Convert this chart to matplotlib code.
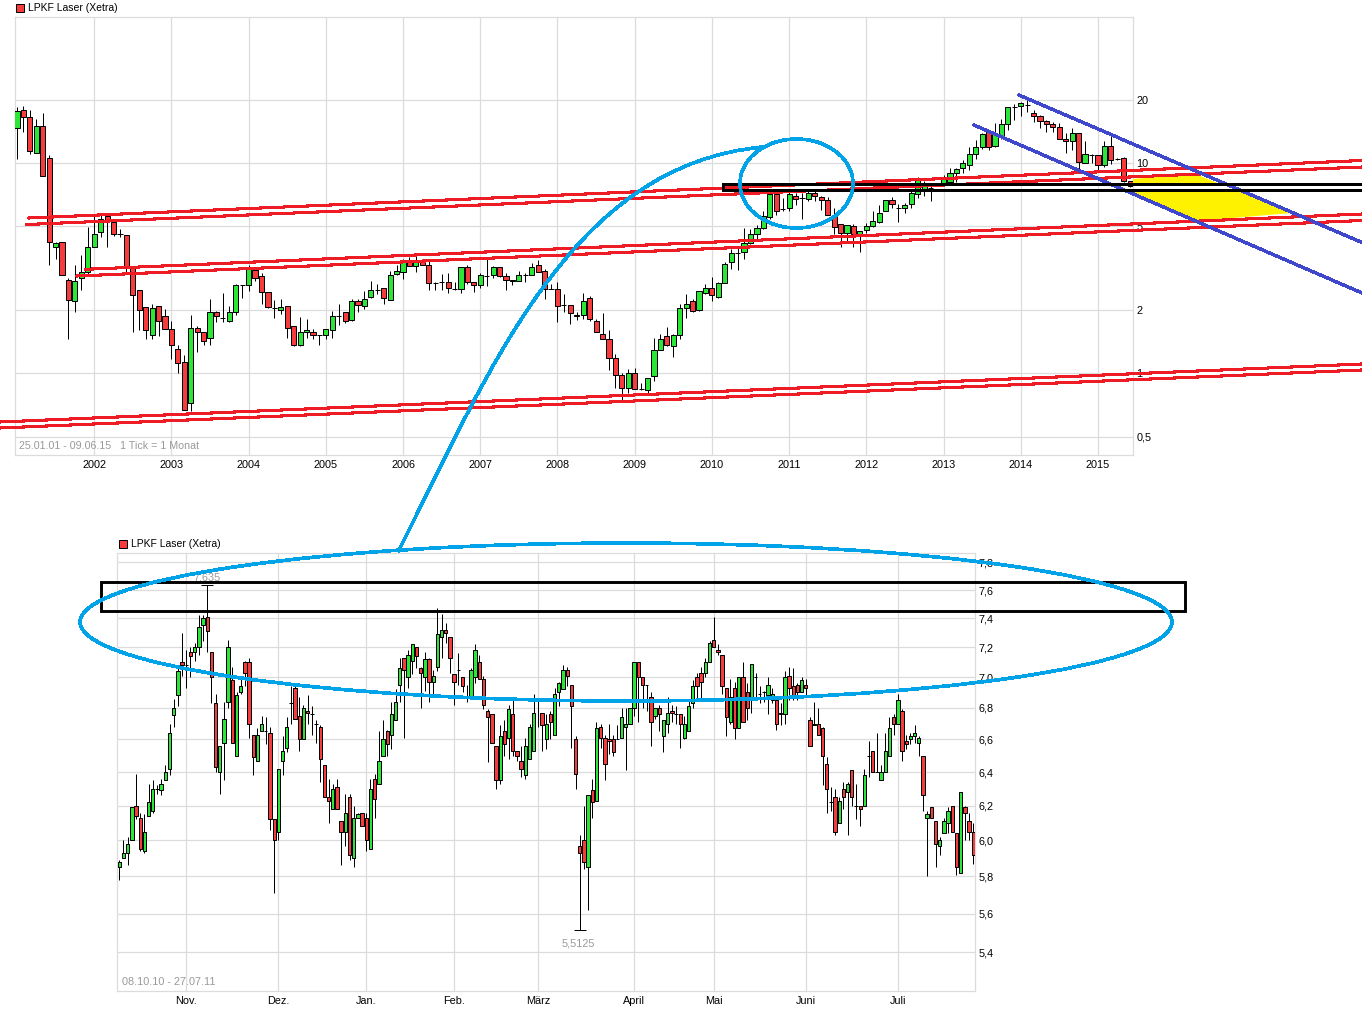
import matplotlib
matplotlib.use("Agg")
from matplotlib import pyplot as plt
from matplotlib.patches import Ellipse, PathPatch, Polygon, Rectangle
from matplotlib.path import Path

plt.rcParams['font.family'] = ['Liberation Sans', 'DejaVu Sans']
plt.rcParams['font.size'] = 7.8

W, H = 1362, 1030

GREEN = "#2be636"
RED = "#f53b3b"
GRID = "#dcdcdc"
LINE_RED = "#ee1c25"
LINE_BLUE = "#00a2e8"
LINE_PURPLE = "#3f48cc"
YELLOW = "#fff200"

# monthly candles, LPKF Laser, Jan 2001 - Jun 2015
m_open = [14.7, 18.0, 16.5, 11.2, 15.1, 10.6, 4.0, 4.2, 2.79, 2.2,
          2.83, 3.05, 4.0, 4.7, 5.6, 5.25, 4.58, 4.55, 3.2, 2.48,
          2.08, 1.53, 2.1, 1.87, 1.62, 1.31, 1.13, .72, 1.65, 1.58,
          1.48, 1.95, 1.84, 1.77, 1.96, 2.62, 2.62, 3.1, 2.9, 2.43,
          2.05, 2.0, 2.1, 1.68, 1.36, 1.57, 1.58, 1.53, 1.53, 1.6,
          1.88, 1.95, 1.79, 2.22, 2.1, 2.3, 2.5, 2.54, 2.23, 2.98,
          3.05, 3.4, 3.23, 3.47, 3.27, 2.69, 2.72, 2.72, 2.53, 2.51,
          3.2, 2.72, 2.62, 2.92, 2.94, 3.2, 2.9, 2.79, 2.74, 2.94,
          2.94, 3.27, 3.08, 2.51, 2.51, 2.12, 2.12, 1.87, 1.9, 2.28,
          1.77, 1.54, 1.45, 1.19, .98, .85, 1.0, .84, .83, .97,
          1.29, 1.5, 1.35, 1.52, 2.05, 2.22, 2.0, 2.42, 2.54, 2.31,
          2.7, 3.37, 3.73, 3.8, 4.15, 4.62, 4.9, 5.55, 7.1, 6.05,
          6.1, 7.0, 6.8, 6.75, 7.2, 6.9, 6.7, 5.7, 5.15, 4.65,
          5.05, 4.62, 4.82, 5.05, 5.25, 5.9, 6.7, 6.1, 6.1, 6.4,
          7.15, 7.5, 7.65, 7.75, 7.9, 8.1, 8.95, 9.5, 9.8, 11.0,
          11.9, 14.0, 12.1, 13.5, 15.3, 18.5, 18.7, 18.9, 17.4, 16.8,
          15.9, 15.3, 14.9, 13.1, 12.7, 13.9, 10.0, 10.9, 10.9, 9.8,
          12.1, 10.5, 10.6, 8.2]
m_close = [17.7, 16.5, 11.4, 15.1, 8.7, 4.2, 4.15, 2.95, 2.23, 2.76,
           3.05, 4.0, 4.62, 5.45, 5.3, 4.62, 4.58, 3.2, 2.37, 2.0,
           1.6, 2.05, 1.77, 1.62, 1.36, 1.12, .67, 1.65, 1.57, 1.42,
           1.95, 1.87, 1.84, 1.95, 2.62, 2.62, 3.14, 2.83, 2.43, 2.08,
           2.05, 2.06, 1.64, 1.36, 1.58, 1.6, 1.53, 1.53, 1.62, 1.88,
           1.88, 1.77, 2.22, 2.12, 2.27, 2.5, 2.5, 2.28, 2.95, 3.08,
           3.37, 3.25, 3.37, 3.27, 2.68, 2.69, 2.72, 2.54, 2.53, 3.2,
           2.72, 2.62, 2.94, 2.92, 3.2, 2.9, 2.79, 2.74, 2.94, 2.94,
           3.2, 3.05, 2.51, 2.51, 2.1, 2.12, 1.93, 1.9, 2.2, 1.81,
           1.57, 1.46, 1.18, .98, .85, 1.0, .84, .84, .95, 1.29,
           1.46, 1.36, 1.52, 2.05, 2.15, 1.98, 2.46, 2.54, 2.37, 2.68,
           3.33, 3.73, 3.73, 4.15, 4.62, 4.9, 5.6, 7.1, 5.9, 6.05,
           7.15, 6.75, 6.8, 7.2, 7.0, 6.7, 5.7, 4.97, 4.65, 5.1,
           4.62, 4.77, 5.05, 5.3, 5.8, 6.7, 6.4, 6.1, 6.3, 7.2,
           8.35, 7.9, 7.65, 7.75, 8.5, 8.95, 9.4, 10.0, 11.0, 11.9,
           13.7, 12.0, 13.7, 15.3, 18.5, 18.5, 19.4, 18.9, 16.8, 15.9,
           15.3, 14.9, 13.1, 12.7, 13.9, 10.1, 11.0, 10.9, 9.8, 12.1,
           10.3, 10.5, 8.2, 7.75]
m_high = [18.5, 18.7, 17.9, 16.3, 17.3, 10.9, 4.2, 4.2, 2.85, 3.27,
          3.65, 4.97, 5.6, 5.8, 5.7, 5.45, 4.84, 4.55, 3.2, 2.48,
          2.08, 2.14, 2.1, 2.02, 1.77, 1.36, 1.22, 1.9, 1.68, 1.58,
          2.25, 1.99, 2.4, 2.1, 2.66, 2.62, 3.27, 3.14, 3.0, 2.43,
          2.23, 2.27, 2.1, 1.68, 1.85, 1.81, 1.62, 1.53, 1.62, 1.99,
          2.14, 1.95, 2.25, 2.25, 2.47, 2.75, 2.65, 2.56, 3.06, 3.27,
          3.5, 3.57, 3.73, 3.5, 3.52, 2.72, 2.96, 3.0, 2.72, 3.2,
          3.28, 2.72, 3.0, 3.5, 3.23, 3.2, 3.0, 2.79, 3.08, 3.0,
          3.34, 3.47, 3.13, 2.66, 2.72, 2.38, 2.12, 1.95, 2.4, 2.33,
          1.81, 1.93, 1.6, 1.23, 1.0, 1.05, 1.06, .9, .95, 1.48,
          1.54, 1.67, 1.54, 2.14, 2.39, 2.25, 2.47, 2.66, 2.87, 2.72,
          3.37, 3.9, 4.0, 4.9, 4.84, 5.1, 5.9, 7.2, 7.2, 6.85,
          7.4, 7.2, 7.2, 7.4, 7.4, 7.0, 6.9, 6.1, 5.15, 5.1,
          5.15, 4.77, 5.2, 5.9, 6.35, 6.7, 6.9, 6.4, 6.5, 7.5,
          8.6, 8.2, 7.9, 7.9, 8.8, 9.5, 9.5, 10.4, 12.0, 12.9,
          13.9, 14.4, 15.5, 16.3, 18.6, 19.2, 19.6, 20, 18.0, 17.0,
          16.1, 15.7, 15.6, 13.9, 14.7, 13.9, 12.7, 11.1, 10.9, 12.7,
          13.4, 10.6, 10.7, 8.25]
m_low = [10.5, 14.1, 11.1, 11.2, 8.7, 3.28, 3.5, 2.95, 1.46, 1.95,
         2.5, 2.97, 4.0, 4.45, 4.0, 4.5, 4.45, 3.0, 1.57, 1.6,
         1.46, 1.46, 1.5, 1.62, 1.17, 1.0, .67, .66, 1.26, 1.36,
         1.36, 1.76, 1.76, 1.76, 1.89, 2.28, 2.47, 2.75, 2.14, 2.05,
         1.84, 1.91, 1.48, 1.35, 1.35, 1.48, 1.46, 1.36, 1.46, 1.48,
         1.7, 1.73, 1.77, 1.95, 2.02, 2.28, 2.38, 2.14, 2.23, 2.94,
         2.8, 3.25, 3.03, 3.27, 2.5, 2.48, 2.48, 2.4, 2.48, 2.42,
         2.66, 2.44, 2.56, 2.61, 2.83, 2.87, 2.48, 2.64, 2.74, 2.72,
         2.94, 3.05, 2.27, 2.51, 1.76, 1.95, 1.72, 1.8, 1.81, 1.77,
         1.57, 1.45, 1.04, .85, .74, .81, .84, .83, .81, .92,
         1.29, 1.35, 1.2, 1.45, 1.84, 1.95, 1.98, 2.38, 2.22, 2.28,
         2.68, 3.13, 3.1, 3.52, 4.13, 4.37, 4.87, 5.45, 5.7, 5.9,
         5.9, 6.3, 5.45, 6.6, 6.6, 6.0, 5.65, 4.58, 4.0, 4.15,
         4.0, 3.8, 4.65, 4.97, 5.2, 5.9, 6.15, 5.25, 5.8, 6.15,
         6.85, 7.0, 6.6, 7.75, 7.85, 7.9, 8.1, 8.95, 9.3, 10.5,
         11.7, 11.6, 11.9, 13.1, 14.4, 16.0, 16.7, 17.5, 15.7, 14.7,
         14.1, 14.0, 13.0, 11.2, 11.5, 9.3, 10.0, 10.0, 9.2, 9.6,
         9.9, 10.4, 8.15, 7.7]

year_pos = [12, 24, 36, 48, 60, 72, 84, 96, 108, 120, 132, 144, 156, 168]
year_labels = ["2002", "2003", "2004", "2005", "2006", "2007", "2008",
               "2009", "2010", "2011", "2012", "2013", "2014", "2015"]
top_ticks = [20, 10, 5, 2, 1, 0.5]
top_tick_labels = ["20", "10", "5", "2", "1", "0,5"]

# daily candles, 08.10.10 - 27.07.11
d_open = [5.85, 5.90, 5.93, 6.0, 6.2, 6.13, 5.94, 6.14, 6.17, 6.3,
          6.29, 6.35, 6.42, 6.755, 6.88, 7.1, 7.08, 7.17, 7.17, 7.2,
          7.35, 7.41, 7.17, 6.83, 6.4, 6.58, 6.84, 6.98, 6.5, 6.9,
          7.1, 7.1, 6.63, 6.47, 6.65, 6.65, 6.64, 6.12, 6.05, 6.47,
          6.55, 6.83, 6.93, 6.75, 6.6, 6.78, 6.76, 6.7, 6.68, 6.44,
          6.25, 6.18, 6.31, 6.11, 6.05, 6.25, 5.9, 6.13, 6.16, 6.13,
          5.95, 6.36, 6.33, 6.5, 6.65, 6.63, 6.72, 6.95, 7.13, 7.0,
          7.11, 7.2, 7.06, 7.0, 7.12, 6.97, 7.07, 7.27, 7.32, 7.27,
          7.02, 7.05, 7.0, 6.87, 6.87, 7.0, 7.1, 6.99, 6.78, 6.76,
          6.56, 6.35, 6.65, 6.61, 6.76, 6.53, 6.47, 6.38, 6.48, 6.53,
          6.85, 6.77, 6.6, 6.76, 6.63, 6.9, 6.92, 7.05, 6.95, 6.6,
          5.97, 6.0, 5.85, 6.29, 6.23, 6.68, 6.61, 6.6, 6.6, 6.6,
          6.61, 6.68, 6.7, 6.8, 7.1, 7.0, 6.95, 6.87, 6.75, 6.8,
          6.62, 6.7, 6.78, 6.76, 6.76, 6.61, 6.65, 6.83, 7.0, 7.03,
          7.03, 7.1, 7.25, 7.18, 7.15, 6.93, 6.71, 6.93, 6.67, 7.0,
          6.9, 6.87, 7.0, 6.89, 6.9, 6.88, 6.85, 6.85, 6.76, 6.76,
          7.01, 6.94, 6.95, 6.9, 6.95, 6.72, 6.69, 6.7, 6.67, 6.45,
          6.22, 6.25, 6.1, 6.3, 6.28, 6.41, 6.2, 6.2, 6.2, 6.5,
          6.53, 6.4, 6.35, 6.4, 6.5, 6.74, 6.7, 6.78, 6.59, 6.6,
          6.62, 6.58, 6.5, 6.13, 6.19, 6.11, 5.97, 6.04, 6.1, 6.2,
          6.04, 5.82, 6.19, 6.11, 6.05]
d_close = [5.88, 5.93, 5.98, 6.19, 6.14, 5.95, 6.05, 6.22, 6.3, 6.3,
           6.33, 6.4, 6.64, 6.8, 7.04, 7.08, 7.08, 7.14, 7.2, 7.34,
           7.4, 7.31, 7.0, 6.43, 6.56, 6.73, 7.2, 6.58, 6.88, 6.94,
           7.03, 6.7, 6.49, 6.63, 6.7, 6.65, 6.12, 6.0, 6.42, 6.53,
           6.68, 6.83, 6.73, 6.6, 6.8, 6.77, 6.76, 6.7, 6.48, 6.25,
           6.23, 6.3, 6.18, 6.05, 6.16, 5.92, 6.13, 6.15, 6.08, 6.0,
           6.3, 6.24, 6.47, 6.6, 6.57, 6.76, 6.84, 7.06, 7.05, 7.15,
           7.22, 7.14, 7.03, 7.12, 6.97, 7.01, 7.29, 7.32, 7.3, 7.13,
           6.97, 7.05, 6.94, 6.87, 7.05, 7.18, 6.99, 6.82, 6.74, 6.58,
           6.35, 6.62, 6.57, 6.79, 6.53, 6.5, 6.42, 6.56, 6.68, 6.77,
           6.85, 6.69, 6.7, 6.71, 6.89, 6.96, 7.05, 7.01, 6.81, 6.39,
           5.93, 5.88, 6.26, 6.22, 6.67, 6.61, 6.45, 6.59, 6.52, 6.6,
           6.74, 6.7, 6.8, 7.1, 7.0, 6.95, 6.95, 6.71, 6.8, 6.76,
           6.72, 6.77, 6.77, 6.76, 6.7, 6.7, 6.81, 6.94, 6.94, 6.97,
           7.1, 7.23, 7.2, 7.17, 6.94, 6.74, 6.87, 6.67, 7.0, 6.71,
           6.8, 7.09, 7.0, 6.89, 6.9, 6.95, 6.89, 6.7, 6.77, 7.0,
           6.93, 6.87, 6.9, 6.98, 6.93, 6.56, 6.7, 6.63, 6.5, 6.3,
           6.22, 6.05, 6.23, 6.25, 6.33, 6.25, 6.2, 6.18, 6.38, 6.5,
           6.4, 6.4, 6.4, 6.53, 6.67, 6.7, 6.85, 6.53, 6.57, 6.62,
           6.64, 6.61, 6.26, 6.15, 6.13, 5.98, 6.0, 6.11, 6.17, 6.05,
           5.85, 6.28, 6.16, 6.05, 5.92]
d_high = [5.89, 6.0, 6.02, 6.19, 6.39, 6.16, 6.15, 6.33, 6.35, 6.32,
          6.36, 6.44, 6.7, 6.86, 7.06, 7.3, 7.18, 7.2, 7.23, 7.42,
          7.42, 7.635, 7.17, 6.89, 6.56, 6.84, 7.25, 7.07, 6.9, 7.0,
          7.11, 7.13, 6.63, 6.67, 6.75, 6.74, 6.68, 6.12, 6.42, 6.62,
          6.74, 6.94, 6.95, 6.87, 6.82, 6.88, 6.81, 6.72, 6.69, 6.44,
          6.36, 6.33, 6.36, 6.11, 6.27, 6.27, 6.2, 6.16, 6.16, 6.16,
          6.36, 6.39, 6.65, 6.72, 6.66, 6.84, 6.92, 7.13, 7.13, 7.18,
          7.22, 7.2, 7.07, 7.17, 7.13, 7.05, 7.47, 7.43, 7.37, 7.27,
          7.02, 7.16, 7.0, 6.95, 7.06, 7.22, 7.15, 7.01, 6.79, 6.76,
          6.56, 6.69, 6.72, 6.82, 6.87, 6.53, 6.56, 6.61, 6.7, 6.89,
          6.85, 6.77, 6.76, 6.78, 6.93, 6.97, 7.08, 7.07, 6.95, 6.62,
          6.03, 6.2, 6.26, 6.36, 6.71, 6.7, 6.63, 6.7, 6.63, 6.69,
          6.8, 6.8, 6.8, 7.1, 7.1, 7.0, 6.95, 6.9, 6.8, 6.82,
          6.72, 6.87, 6.82, 6.81, 6.76, 6.75, 6.85, 6.98, 7.03, 7.07,
          7.13, 7.24, 7.41, 7.22, 7.15, 6.93, 6.99, 6.97, 7.0, 7.1,
          6.96, 7.09, 7.03, 6.94, 6.91, 7.0, 6.93, 6.87, 6.83, 7.04,
          7.07, 7.06, 6.96, 7.0, 6.99, 6.74, 6.84, 6.8, 6.68, 6.49,
          6.31, 6.3, 6.25, 6.34, 6.34, 6.41, 6.33, 6.2, 6.42, 6.59,
          6.53, 6.64, 6.44, 6.64, 6.74, 6.76, 6.89, 6.79, 6.63, 6.64,
          6.69, 6.62, 6.5, 6.17, 6.19, 6.11, 6.02, 6.13, 6.19, 6.2,
          6.04, 6.28, 6.2, 6.16, 6.1]
d_low = [5.78, 5.9, 5.86, 6.0, 6.12, 5.94, 5.93, 6.14, 6.16, 6.27,
         6.26, 6.35, 6.38, 6.68, 6.81, 7.01, 6.93, 7.0, 7.11, 7.15,
         7.24, 7.17, 6.83, 6.4, 6.27, 6.35, 6.8, 6.58, 6.5, 6.89,
         6.94, 6.61, 6.38, 6.47, 6.65, 6.57, 6.06, 5.71, 6.0, 6.38,
         6.52, 6.7, 6.73, 6.53, 6.6, 6.7, 6.63, 6.58, 6.34, 6.25,
         6.1, 6.18, 6.18, 5.86, 5.97, 5.89, 5.85, 6.13, 6.08, 5.94,
         5.95, 6.13, 6.33, 6.5, 6.5, 6.54, 6.72, 6.84, 6.61, 6.93,
         7.02, 7.06, 6.8, 6.91, 6.84, 6.88, 7.04, 7.13, 7.23, 7.03,
         6.82, 6.95, 6.9, 6.84, 6.87, 6.96, 6.99, 6.79, 6.46, 6.58,
         6.3, 6.33, 6.5, 6.48, 6.5, 6.47, 6.37, 6.36, 6.48, 6.53,
         6.68, 6.53, 6.54, 6.6, 6.63, 6.81, 6.92, 6.94, 6.55, 6.3,
         5.5125, 5.84, 5.62, 6.13, 6.23, 6.55, 6.35, 6.51, 6.5, 6.6,
         6.61, 6.41, 6.7, 6.75, 6.71, 6.8, 6.78, 6.56, 6.73, 6.65,
         6.52, 6.64, 6.71, 6.7, 6.55, 6.6, 6.65, 6.8, 6.85, 6.85,
         7.0, 7.1, 7.2, 7.15, 6.89, 6.62, 6.7, 6.6, 6.67, 6.71,
         6.72, 6.77, 6.87, 6.83, 6.84, 6.76, 6.83, 6.66, 6.69, 6.7,
         6.85, 6.85, 6.85, 6.9, 6.87, 6.56, 6.69, 6.63, 6.32, 6.16,
         6.17, 6.03, 6.1, 6.18, 6.03, 6.2, 6.12, 6.08, 6.2, 6.37,
         6.4, 6.4, 6.35, 6.4, 6.5, 6.63, 6.7, 6.47, 6.54, 6.57,
         6.58, 6.5, 6.17, 5.8, 6.13, 5.85, 5.92, 6.04, 6.04, 6.05,
         5.81, 5.82, 6.0, 6.0, 5.87]

month_pos = [16, 38, 59, 80, 100, 123, 142, 164, 186]
month_labels = ["Nov.", "Dez.", "Jan.", "Feb.", "März", "April", "Mai", "Juni", "Juli"]
bottom_ticks = [7.8, 7.6, 7.4, 7.2, 7.0, 6.8, 6.6, 6.4, 6.2, 6.0, 5.8, 5.6, 5.4]
bottom_tick_labels = ["7,8", "7,6", "7,4", "7,2", "7,0", "6,8", "6,6", "6,4",
                      "6,2", "6,0", "5,8", "5,6", "5,4"]


def px_axes(fig, left, top, right, bottom):
    return fig.add_axes([left / W, 1 - bottom / H, (right - left) / W, (bottom - top) / H])


def draw_candles(ax, o, h, l, c, width):
    x = list(range(len(o)))
    ax.vlines(x, l, h, color="k", lw=0.72, zorder=3)
    bottoms = [min(a, b) for a, b in zip(o, c)]
    heights = [abs(a - b) for a, b in zip(o, c)]
    colors = [GREEN if b >= a else RED for a, b in zip(o, c)]
    bars = ax.bar(x, heights, width, bottom=bottoms, color=colors, edgecolor="k",
                  linewidth=0.72, zorder=4)
    for b in bars:
        b.set_snap(True)


def style_axes(ax, xpos, xlabels, ypos, ylabels):
    ax.set_yscale("log")
    ax.set_xticks(xpos)
    ax.set_xticklabels(xlabels)
    ax.set_yticks(ypos)
    ax.set_yticklabels(ylabels)
    ax.minorticks_off()
    ax.yaxis.tick_right()
    ax.tick_params(axis="y", length=0, pad=2.4)
    ax.tick_params(axis="x", length=0, pad=3.4)
    ax.grid(True, color=GRID, lw=0.9)
    ax.set_axisbelow(True)
    for s in ax.spines.values():
        s.set_color(GRID)
        s.set_linewidth(0.9)


fig = plt.figure(figsize=(W / 100, H / 100), dpi=100, facecolor="white")

ax_top = px_axes(fig, 14.5, 17, 1133, 455)
style_axes(ax_top, year_pos, year_labels, top_ticks, top_tick_labels)
draw_candles(ax_top, m_open, m_high, m_low, m_close, 0.8)
ax_top.set_xlim(-0.39, 173.45)
ax_top.set_ylim(0.409, 49.6)

ax_bot = px_axes(fig, 117.3, 553.3, 975.3, 991)
style_axes(ax_bot, month_pos, month_labels, bottom_ticks, bottom_tick_labels)
draw_candles(ax_bot, d_open, d_high, d_low, d_close, 0.8)
ax_bot.plot([21, 110], [7.635, 5.5125], ls="none", marker="_", ms=9, mew=0.72, color="k", zorder=3)
ax_bot.set_xlim(-0.48, 204.5)
ax_bot.set_ylim(5.205, 7.868)

# hand drawn markup on top of both charts, in picture pixels
ov = fig.add_axes([0, 0, 1, 1], zorder=10)
ov.set_xlim(0, W)
ov.set_ylim(H, 0)
ov.axis("off")
ov.patch.set_alpha(0)

ov.add_patch(Polygon([(1133, 179), (1193, 173), (1220, 184), (1133, 184)], color=YELLOW, lw=0, zorder=1))
ov.add_patch(Polygon([(1124, 190), (1240, 190), (1292, 213), (1197, 221)], color=YELLOW, lw=0, zorder=1))

red_lines = [((29, 218), (1362, 160.5)), ((27, 224.5), (1362, 167)),
             ((86, 269.3), (1362, 214)), ((77, 276), (1362, 220.5)),
             ((0, 422), (1362, 364)), ((0, 428), (1362, 370))]
for a, b in red_lines:
    ov.plot([a[0], b[0]], [a[1], b[1]], color=LINE_RED, lw=1.5, antialiased=False, zorder=2)

ov.plot([1019, 1362], [95, 242.5], color=LINE_PURPLE, lw=1.7, antialiased=False, zorder=3)
ov.plot([974, 1362], [125, 293], color=LINE_PURPLE, lw=1.7, antialiased=False, zorder=3)

ov.plot([1362, 722.5, 722.5, 1362], [184.3, 184.3, 190.3, 190.3], color="k", lw=2.1,
        antialiased=False, solid_joinstyle="miter", zorder=4)
ov.add_patch(Rectangle((101, 582.3), 1084, 28.5, fill=False, ec="k", lw=2.1, zorder=4))

ov.add_patch(Ellipse((796.5, 183.5), 113, 89, fill=False, ec=LINE_BLUE, lw=1.9, antialiased=False, zorder=5))
ov.add_patch(Ellipse((626, 622), 1092, 158, fill=False, ec=LINE_BLUE, lw=1.9, antialiased=False, zorder=5))
curve = Path([(398, 552), (490, 370), (570, 165), (763, 147)],
             [Path.MOVETO, Path.CURVE4, Path.CURVE4, Path.CURVE4])
ov.add_patch(PathPatch(curve, fill=False, ec=LINE_BLUE, lw=1.9, antialiased=False, zorder=5))

for x0, y0, tx in [(15.5, 3.5, 28.5), (118.5, 539.5, 131)]:
    ov.add_patch(Rectangle((x0, y0), 8, 8, fc=RED, ec="k", lw=0.72))
    ov.text(tx, y0 + 4.8, "LPKF Laser (Xetra)", va="center", ha="left", color="k", fontsize=7.5)

ov.text(19, 446, "25.01.01 - 09.06.15   1 Tick = 1 Monat", va="center", ha="left", color="#999999", fontsize=7.7)
ov.text(122.5, 982, "08.10.10 - 27.07.11", va="center", ha="left", color="#999999")
ov.text(207, 577, "7,635", va="center", ha="center", color="#999999")
ov.text(578.5, 943, "5,5125", va="center", ha="center", color="#999999")

fig.savefig("out.png", dpi=100)
